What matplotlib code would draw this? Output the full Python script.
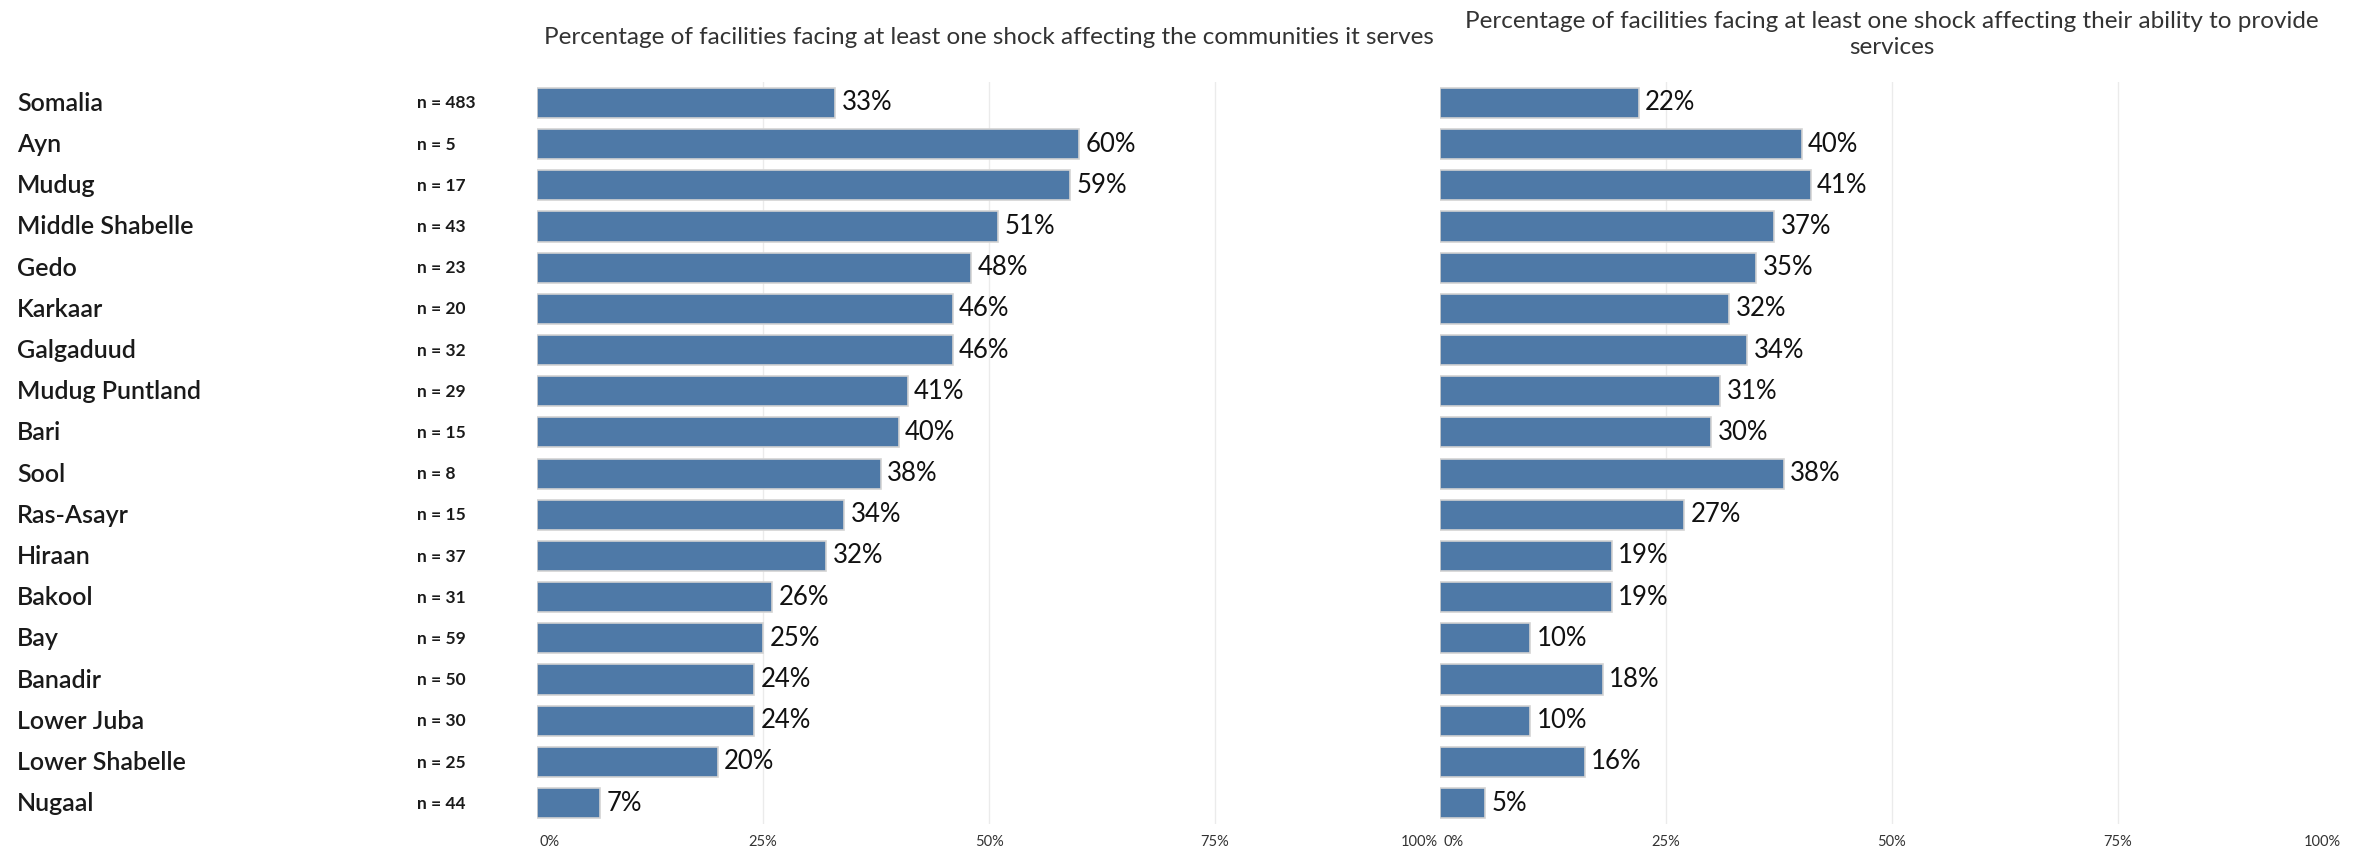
import matplotlib
matplotlib.use("Agg")
import matplotlib.pyplot as plt
import matplotlib.transforms as mtransforms
import numpy as np

plt.rcParams['font.family'] = ['Lato', 'DejaVu Sans']

# data
regions = ['Somalia', 'Ayn', 'Mudug', 'Middle Shabelle', 'Gedo', 'Karkaar',
           'Galgaduud', 'Mudug Puntland', 'Bari', 'Sool', 'Ras-Asayr', 'Hiraan',
           'Bakool', 'Bay', 'Banadir', 'Lower Juba', 'Lower Shabelle', 'Nugaal']
n_sizes = [483, 5, 17, 43, 23, 20, 32, 29, 15, 8, 15, 37, 31, 59, 50, 30, 25, 44]
communities = [33, 60, 59, 51, 48, 46, 46, 41, 40, 38, 34, 32, 26, 25, 24, 24, 20, 7]
services = [22, 40, 41, 37, 35, 32, 34, 31, 30, 38, 27, 19, 19, 10, 18, 10, 16, 5]
titles = ['Percentage of facilities facing at least one shock affecting the communities it serves',
          'Percentage of facilities facing at least one shock affecting their ability to provide\nservices']
tick_vals = [0, 25, 50, 75, 100]

W, H = 2366, 851
fig = plt.figure(figsize=(W / 100, H / 100), dpi=100)

bar_color = '#4e79a7'
y = np.arange(len(regions))

bottom = 1 - 823.6 / H
height = (823.6 - 82.4) / H
axes = [fig.add_axes([537 / W, bottom, 904 / W, height]),
        fig.add_axes([1440 / W, bottom, 904 / W, height])]

for ax, vals, title in zip(axes, [communities, services], titles):
    ax.set_xlim(0, 100)
    ax.set_ylim(len(regions) - 0.5, -0.5)
    for g in [25, 50, 75]:
        ax.axvline(g, color='#ebebeb', lw=1, zorder=0)
    ax.barh(y, vals, height=0.73, color=bar_color, edgecolor='#d3d3d3',
            linewidth=1.2, zorder=2)
    for yi, v in zip(y, vals):
        ax.text(v + 0.7, yi, f'{v}%', va='center', ha='left', fontsize=18.5,
                color='#111111')
    for s in ax.spines.values():
        s.set_visible(False)
    ax.set_yticks([])
    ax.set_xticks([])
    # axis labels drawn by hand so the end ones can sit inside the pane
    trans = ax.get_xaxis_transform()
    for t in tick_vals:
        ha, dx = 'center', 0
        if t == tick_vals[0]:
            ha, dx = 'left', 3
        elif t == tick_vals[-1]:
            ha, dx = 'right', -3
        ax.text(t, 0, f'{t}%', transform=trans + mtransforms.ScaledTranslation(
                    dx / 100, -18 / 100, fig.dpi_scale_trans),
                ha=ha, va='center', fontsize=10.5, color='#333333')
    ax.set_title(title, fontsize=17.5, color='#333333', pad=0, y=1.0,
                 linespacing=1.25)

axes[0].title.set_position((0.5, 1 + (82.4 - 38) / (H * height)))
axes[0].title.set_va('center')
axes[1].title.set_position((0.5, 1 + (82.4 - 34.5) / (H * height)))
axes[1].title.set_va('center')

# row labels and sample sizes
for yi, name, n in zip(y, regions, n_sizes):
    yf = 1 - (103.3 + 41.2 * yi) / H
    fig.text(17 / W, yf, name, fontsize=18, fontweight='semibold',
             color='#1a1a1a', va='center', ha='left')
    fig.text(417 / W, yf, f'n = {n}', fontsize=12.5, fontweight='bold',
             color='#1a1a1a', va='center', ha='left')

fig.savefig('out.png', dpi=100, facecolor='white')
